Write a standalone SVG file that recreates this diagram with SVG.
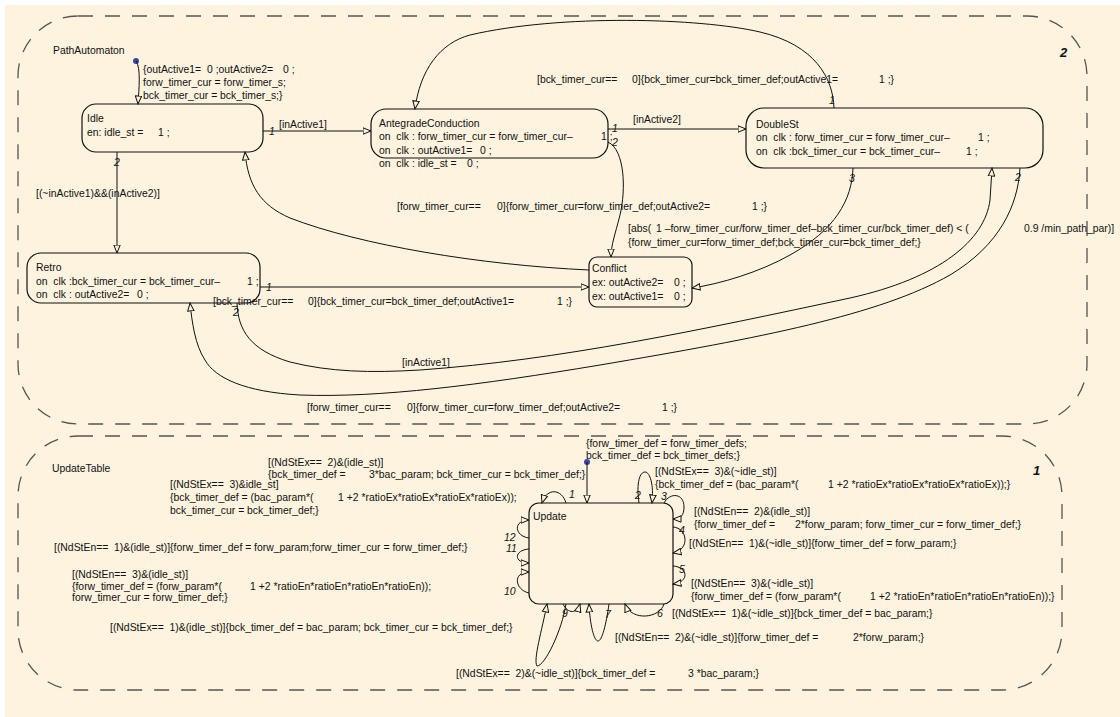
<svg xmlns="http://www.w3.org/2000/svg" width="1120" height="717" viewBox="0 0 1120 717">
<style>
.t{font-family:"Liberation Sans",Arial,sans-serif;font-size:10.4px;fill:#111;white-space:pre}
.n{font-family:"Liberation Sans",Arial,sans-serif;font-size:10.5px;font-style:italic;fill:#111}
.b{font-family:"Liberation Sans",Arial,sans-serif;font-size:13px;font-style:italic;font-weight:bold;fill:#111}
.st{fill:#fdf3df;stroke:#111;stroke-width:1.2}
.cn{fill:none;stroke:#111;stroke-width:1;marker-end:url(#ah)}
.bx{fill:none;stroke:#555;stroke-width:1.3;stroke-dasharray:15 12}
</style>
<defs>
<marker id="ah" markerWidth="10" markerHeight="8" refX="8.5" refY="4" orient="auto" markerUnits="userSpaceOnUse">
<path d="M0.5,0.8 L8.5,4 L0.5,7.2 z" fill="#fdf3df" stroke="#111" stroke-width="1"/>
</marker>
</defs>
<rect x="5" y="5" width="1115" height="712" fill="#fdf3df"/>

<g id="PathAutomaton">
<rect class="bx" x="18" y="16" width="1069" height="408" rx="60"/>
<text class="t" x="53" y="54">PathAutomaton</text>
<text class="b" x="1060" y="57">2</text>
</g>

<g id="UpdateTable">
<rect class="bx" x="18" y="436" width="1044" height="254" rx="60"/>
<text class="t" x="52" y="472">UpdateTable</text>
<text class="b" x="1033" y="475">1</text>
</g>

<g id="Idle">
<rect class="st" x="82" y="104" width="181" height="48" rx="14"/>
<text class="t" x="87" y="122">Idle</text>
<text class="t" x="87" y="136">en: idle_st = <tspan x="158">1</tspan> ;</text>
</g>

<g id="AntegradeConduction">
<rect class="st" x="371" y="109" width="237" height="49" rx="15"/>
<text class="t" x="379" y="127">AntegradeConduction</text>
<text class="t" x="379" y="140">on  clk : forw_timer_cur = forw_timer_cur– <tspan x="601">1</tspan> ;</text>
<text class="t" x="379" y="154">on  clk : outActive1= <tspan x="480">0</tspan> ;</text>
<text class="t" x="379" y="167">on  clk : idle_st = <tspan x="467">0</tspan> ;</text>
</g>

<g id="DoubleSt">
<rect class="st" x="746" y="108" width="297" height="60" rx="18"/>
<text class="t" x="756" y="128">DoubleSt</text>
<text class="t" x="756" y="141">on  clk : forw_timer_cur = forw_timer_cur– <tspan x="978">1</tspan> ;</text>
<text class="t" x="756" y="155">on  clk :bck_timer_cur = bck_timer_cur– <tspan x="966">1</tspan> ;</text>
</g>

<g id="Retro">
<rect class="st" x="27" y="253" width="233" height="50" rx="14"/>
<text class="t" x="36" y="271">Retro</text>
<text class="t" x="36" y="285">on  clk :bck_timer_cur = bck_timer_cur– <tspan x="247">1</tspan> ;</text>
<text class="t" x="36" y="298">on  clk : outActive2= <tspan x="137">0</tspan> ;</text>
</g>

<g id="Conflict">
<rect class="st" x="589" y="257" width="103" height="50" rx="8"/>
<text class="t" x="592" y="272">Conflict</text>
<text class="t" x="592" y="286">ex: outActive2= <tspan x="674">0</tspan> ;</text>
<text class="t" x="592" y="300">ex: outActive1= <tspan x="674">0</tspan> ;</text>
</g>

<g id="Update">
<rect class="st" x="529" y="503" width="144" height="101" rx="10"/>
<text class="t" x="533" y="520">Update</text>
</g>

<g id="connectors">
<circle cx="136" cy="61" r="3" fill="#3b48a8"/>
<path class="cn" d="M136,61 C141,68 139,88 138,104"/>
<path class="cn" d="M263,131 L371,131"/>
<path class="cn" d="M117,152 L117,253"/>
<path class="cn" d="M608,129 L746,129"/>
<path class="cn" d="M608,142 C625,150 626,190 620,215 C615,235 611,245 611,257"/>
<path class="cn" d="M834,108 C833,78 815,45 760,32 C700,18 560,14 470,35 C440,43 420,70 415,109"/>
<path class="cn" d="M853,168 C852,200 835,230 790,255 C760,272 720,284 692,288"/>
<path class="cn" d="M1020,168 C1018,205 1000,245 950,275 C880,315 760,338 600,365 C480,385 380,398 300,395 C245,392 215,378 205,360 C195,345 192,322 190,303"/>
<path class="cn" d="M237,303 C238,330 250,350 290,362 C330,372 370,373 420,370 C560,360 700,330 850,298 C940,278 985,240 990,200 L992,168"/>
<path class="cn" d="M260,287 L589,287"/>
<path class="cn" d="M589,270 C480,265 360,245 290,218 C260,205 248,185 245,152"/>

<circle cx="587" cy="462" r="3" fill="#3b48a8"/>
<path class="cn" d="M587,462 L587,503"/>
<path class="cn" d="M566,503 C562,489 547,487 542,503"/>
<path class="cn" d="M639,503 C636,482 640,472 645,472 C650,472 654,485 652,503"/>
<path class="cn" d="M664,503 C670,492 684,493 684,507 C684,515 681,519 673,519"/>
<path class="cn" d="M673,527 C688,528 690,550 673,553"/>
<path class="cn" d="M673,566 C688,567 690,582 673,584"/>
<path class="cn" d="M664,604 C660,618 632,622 625,604"/>
<path class="cn" d="M609,604 C606,625 602,641 598,641 C594,641 590,625 589,604"/>
<path class="cn" d="M566,604 C562,630 545,666 537,666 C533,660 542,630 547,604"/>
<path class="cn" d="M563,604 C568,614 577,614 580,604"/>
<path class="cn" d="M529,593 C515,590 512,572 529,572"/>
<path class="cn" d="M529,549 C514,550 513,563 529,563"/>
<path class="cn" d="M529,538 C514,536 513,520 529,520"/>
</g>

<g id="labels">
<text class="t" x="143" y="73">{outActive1= <tspan x="207">0</tspan> ;outActive2= <tspan x="283">0</tspan> ;</text>
<text class="t" x="143" y="86">forw_timer_cur = forw_timer_s;</text>
<text class="t" x="143" y="99">bck_timer_cur = bck_timer_s;}</text>
<text class="n" x="269" y="135">1</text>
<text class="t" x="279" y="128">[inActive1]</text>
<text class="n" x="114" y="166">2</text>
<text class="t" x="36" y="197">[(~inActive1)&amp;&amp;(inActive2)]</text>
<text class="n" x="612" y="132">1</text>
<text class="n" x="612" y="146">2</text>
<text class="t" x="633" y="123">[inActive2]</text>
<text class="n" x="829" y="104">1</text>
<text class="t" x="537" y="83">[bck_timer_cur== <tspan x="632">0</tspan>]{bck_timer_cur=bck_timer_def;outActive1= <tspan x="879">1</tspan> ;}</text>
<text class="t" x="397" y="210">[forw_timer_cur== <tspan x="497">0</tspan>]{forw_timer_cur=forw_timer_def;outActive2= <tspan x="752">1</tspan> ;}</text>
<text class="t" x="628" y="232">[abs( <tspan x="656">1</tspan> –forw_timer_cur/forw_timer_def–bck_timer_cur/bck_timer_def) &lt; ( <tspan x="1024">0.9</tspan> /min_path_par)]</text>
<text class="t" x="628" y="246">{forw_timer_cur=forw_timer_def;bck_timer_cur=bck_timer_def;}</text>
<text class="n" x="849" y="182">3</text>
<text class="n" x="1015" y="181">2</text>
<text class="n" x="266" y="291">1</text>
<text class="t" x="213" y="305">[bck_timer_cur== <tspan x="308">0</tspan>]{bck_timer_cur=bck_timer_def;outActive1= <tspan x="557">1</tspan> ;}</text>
<text class="n" x="233" y="316">2</text>
<text class="t" x="402" y="366">[inActive1]</text>
<text class="t" x="307" y="411">[forw_timer_cur== <tspan x="407">0</tspan>]{forw_timer_cur=forw_timer_def;outActive2= <tspan x="662">1</tspan> ;}</text>

<text class="t" x="586" y="447">{forw_timer_def = forw_timer_defs;</text>
<text class="t" x="586" y="459">bck_timer_def = bck_timer_defs;}</text>
<text class="t" x="268" y="466">[(NdStEx==  2)&amp;(idle_st)]</text>
<text class="t" x="268" y="478">{bck_timer_def = <tspan x="369">3</tspan>*bac_param; bck_timer_cur = bck_timer_def;}</text>
<text class="t" x="170" y="488">[(NdStEx==  3)&amp;idle_st]</text>
<text class="t" x="170" y="501">{bck_timer_def = (bac_param*( <tspan x="338">1</tspan> +2 *ratioEx*ratioEx*ratioEx*ratioEx));</text>
<text class="t" x="170" y="514">bck_timer_cur = bck_timer_def;}</text>
<text class="t" x="54" y="551">[(NdStEn==  1)&amp;(idle_st)]{forw_timer_def = forw_param;forw_timer_cur = forw_timer_def;}</text>
<text class="t" x="72" y="578">[(NdStEn==  3)&amp;(idle_st)]</text>
<text class="t" x="72" y="590">{forw_timer_def = (forw_param*( <tspan x="250">1</tspan> +2 *ratioEn*ratioEn*ratioEn*ratioEn));</text>
<text class="t" x="72" y="601">forw_timer_cur = forw_timer_def;}</text>
<text class="t" x="110" y="631">[(NdStEx==  1)&amp;(idle_st)]{bck_timer_def = bac_param; bck_timer_cur = bck_timer_def;}</text>
<text class="t" x="456" y="677">[(NdStEx==  2)&amp;(~idle_st)]{bck_timer_def = <tspan x="688">3</tspan> *bac_param;}</text>
<text class="t" x="615" y="641">[(NdStEn==  2)&amp;(~idle_st)]{forw_timer_def = <tspan x="853">2</tspan>*forw_param;}</text>
<text class="t" x="672" y="617">[(NdStEx==  1)&amp;(~idle_st)]{bck_timer_def = bac_param;}</text>
<text class="t" x="691" y="587">[(NdStEn==  3)&amp;(~idle_st)]</text>
<text class="t" x="691" y="600">{forw_timer_def = (forw_param*( <tspan x="870">1</tspan> +2 *ratioEn*ratioEn*ratioEn*ratioEn));}</text>
<text class="t" x="689" y="547">[(NdStEn==  1)&amp;(~idle_st)]{forw_timer_def = forw_param;}</text>
<text class="t" x="694" y="515">[(NdStEn==  2)&amp;(idle_st)]</text>
<text class="t" x="694" y="528">{forw_timer_def = <tspan x="795">2</tspan>*forw_param; forw_timer_cur = forw_timer_def;}</text>
<text class="t" x="655" y="475">[(NdStEx==  3)&amp;(~idle_st)]</text>
<text class="t" x="655" y="488">{bck_timer_def = (bac_param*( <tspan x="828">1</tspan> +2 *ratioEx*ratioEx*ratioEx*ratioEx));}</text>
<text class="n" x="569" y="498">1</text>
<text class="n" x="635" y="499">2</text>
<text class="n" x="661" y="500">3</text>
<text class="n" x="679" y="534">4</text>
<text class="n" x="679" y="573">5</text>
<text class="n" x="657" y="617">6</text>
<text class="n" x="605" y="618">7</text>
<text class="n" x="562" y="617">9</text>
<text class="n" x="504" y="595">10</text>
<text class="n" x="506" y="552">11</text>
<text class="n" x="504" y="541">12</text>
</g>
</svg>
